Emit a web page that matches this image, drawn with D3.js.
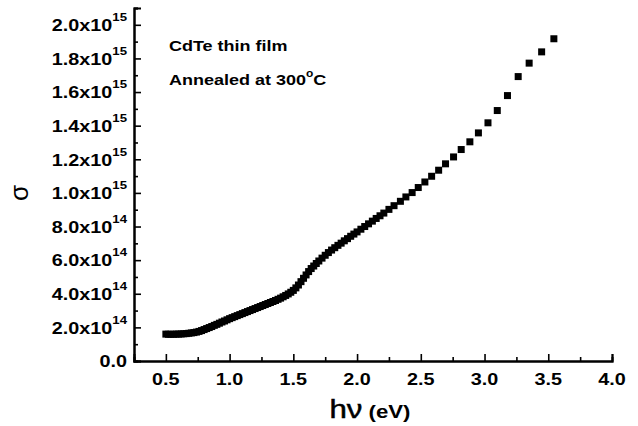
<!DOCTYPE html>
<html>
<head>
<meta charset="utf-8">
<script src="https://cdn.jsdelivr.net/npm/d3@7"></script>
<style>
  body { margin: 0; background: #fff; }
  text { font-family: Arial, "Liberation Sans", sans-serif; fill: #000; }
</style>
</head>
<body>
<svg id="chart" width="638" height="426"></svg>
<script>
// photon energy (eV)
const hv = [0.50, 0.52, 0.54, 0.56, 0.58, 0.60, 0.62, 0.64, 0.66, 0.68, 0.70, 0.72, 0.74, 0.76, 0.78,
  0.80, 0.82, 0.84, 0.86, 0.88, 0.90, 0.92, 0.94, 0.96, 0.98, 1.00, 1.02, 1.04, 1.06, 1.08,
  1.10, 1.12, 1.14, 1.16, 1.18, 1.20, 1.22, 1.24, 1.26, 1.28, 1.30, 1.32, 1.34, 1.36, 1.38,
  1.40, 1.42, 1.44, 1.46, 1.48, 1.50, 1.52, 1.54, 1.56, 1.58, 1.60, 1.62, 1.64, 1.66, 1.68,
  1.70, 1.725, 1.75, 1.775, 1.80, 1.825, 1.85, 1.875, 1.90, 1.925, 1.95, 1.975, 2.00, 2.03,
  2.06, 2.09, 2.12, 2.15, 2.18, 2.21, 2.25, 2.29, 2.34, 2.383, 2.432, 2.48, 2.532, 2.585,
  2.64, 2.694, 2.757, 2.817, 2.885, 2.952, 3.027, 3.10, 3.18, 3.264, 3.35, 3.448, 3.544];

// conductivity sigma, in units of 1e14
const sigma = [1.60, 1.59, 1.59, 1.59, 1.60, 1.60, 1.61, 1.62, 1.63, 1.65, 1.67, 1.69, 1.72, 1.76, 1.81,
  1.87, 1.93, 1.99, 2.05, 2.12, 2.18, 2.25, 2.32, 2.38, 2.45, 2.52, 2.58, 2.64, 2.70, 2.76,
  2.82, 2.88, 2.94, 3.00, 3.06, 3.12, 3.18, 3.24, 3.30, 3.36, 3.42, 3.48, 3.54, 3.60, 3.67,
  3.74, 3.82, 3.90, 3.99, 4.09, 4.20, 4.35, 4.52, 4.72, 4.92, 5.12, 5.32, 5.50, 5.65, 5.80,
  5.95, 6.12, 6.29, 6.45, 6.60, 6.74, 6.88, 7.01, 7.15, 7.28, 7.42, 7.55, 7.68, 7.84,
  8.00, 8.16, 8.32, 8.48, 8.64, 8.80, 9.02, 9.24, 9.50, 9.76, 10.02, 10.32, 10.65, 10.99,
  11.35, 11.73, 12.14, 12.58, 13.04, 13.57, 14.17, 14.90, 15.79, 16.92, 17.72, 18.39, 19.17];

const xTicks = [0.5, 1.0, 1.5, 2.0, 2.5, 3.0, 3.5, 4.0];
const yTicks = [0, 2e14, 4e14, 6e14, 8e14, 1e15, 1.2e15, 1.4e15, 1.6e15, 1.8e15, 2.0e15];
const yLabels = ["0.0", "2.0x10", "4.0x10", "6.0x10", "8.0x10", "1.0x10", "1.2x10", "1.4x10", "1.6x10", "1.8x10", "2.0x10"];
const yExps = ["", "14", "14", "14", "14", "15", "15", "15", "15", "15", "15"];

const data = hv.map((d, i) => ({x: d, y: sigma[i] * 1e14}));

const svg = d3.select("#chart");
const stretch = 1.2; // the original text looks horizontally widened

const x = d3.scaleLinear().domain([0.25, 4.0]).range([134, 612]);
const y = d3.scaleLinear().domain([0, 2.1e15]).range([361, 8]);

// axes, ticks pointing inward
const xMajor = d3.axisBottom(x).tickValues(xTicks).tickSize(-7).tickFormat("");
const xMinor = d3.axisBottom(x).tickValues(d3.range(0.75, 4.0, 0.5)).tickSize(-4).tickFormat("");
const yMajor = d3.axisLeft(y).tickValues(yTicks).tickSize(-7).tickFormat("");
const yMinor = d3.axisLeft(y).tickValues(d3.range(1e14, 2.15e15, 2e14)).tickSize(-4).tickFormat("");

function styleAxis(g) {
  g.select(".domain").attr("stroke", "#000").attr("stroke-width", 2);
  g.selectAll(".tick line").attr("stroke", "#000").attr("stroke-width", 1.6);
}

svg.append("g").attr("transform", "translate(0,361)").call(xMinor).call(styleAxis);
svg.append("g").attr("transform", "translate(0,361)").call(xMajor).call(styleAxis);
svg.append("g").attr("transform", "translate(134,0)").call(yMinor).call(styleAxis);
svg.append("g").attr("transform", "translate(134,0)").call(yMajor).call(styleAxis);

// x tick labels
svg.append("g").selectAll("text")
  .data(xTicks)
  .enter().append("text")
  .attr("transform", d => `translate(${x(d)},385) scale(${stretch},1)`)
  .attr("text-anchor", "middle")
  .attr("font-size", 16.5)
  .attr("font-weight", "bold")
  .text(d => d.toFixed(1));

// y tick labels with superscript exponent
const yl = svg.append("g").selectAll("text")
  .data(yTicks)
  .enter().append("text")
  .attr("transform", d => `translate(127,${y(d) + 6.3}) scale(${stretch},1)`)
  .attr("text-anchor", "end")
  .attr("font-size", 16.5)
  .attr("font-weight", "bold");
yl.append("tspan").text((d, i) => yLabels[i]);
yl.append("tspan")
  .attr("dy", -10)
  .attr("font-size", 11)
  .text((d, i) => yExps[i]);

// data squares
const s = 7;
svg.append("g").selectAll("rect")
  .data(data)
  .enter().append("rect")
  .attr("x", d => x(d.x) - s / 2)
  .attr("y", d => y(d.y) - s / 2)
  .attr("width", s)
  .attr("height", s)
  .attr("fill", "#000");

// annotations
svg.append("text")
  .attr("transform", `translate(169,51) scale(${stretch},1)`)
  .attr("font-size", 15)
  .attr("font-weight", "bold")
  .text("CdTe thin film");

const ann = svg.append("text")
  .attr("transform", `translate(169,85) scale(${stretch},1)`)
  .attr("font-size", 15)
  .attr("font-weight", "bold");
ann.append("tspan").text("Annealed at 300");
ann.append("tspan").attr("dy", -8).attr("font-size", 10).text("o");
ann.append("tspan").attr("dy", 8).text("C");

// axis titles
const xt = svg.append("text")
  .attr("transform", `translate(370,418) scale(${stretch},1)`)
  .attr("text-anchor", "middle");
xt.append("tspan").attr("font-size", 26)
  .attr("stroke", "#000").attr("stroke-width", 0.5).text("hν");
xt.append("tspan").attr("font-size", 18.5).attr("font-weight", "bold").text(" (eV)");

svg.append("text")
  .attr("transform", "translate(28,193) rotate(-90)")
  .attr("text-anchor", "middle")
  .attr("font-size", 26)
  .text("σ");
</script>
</body>
</html>
